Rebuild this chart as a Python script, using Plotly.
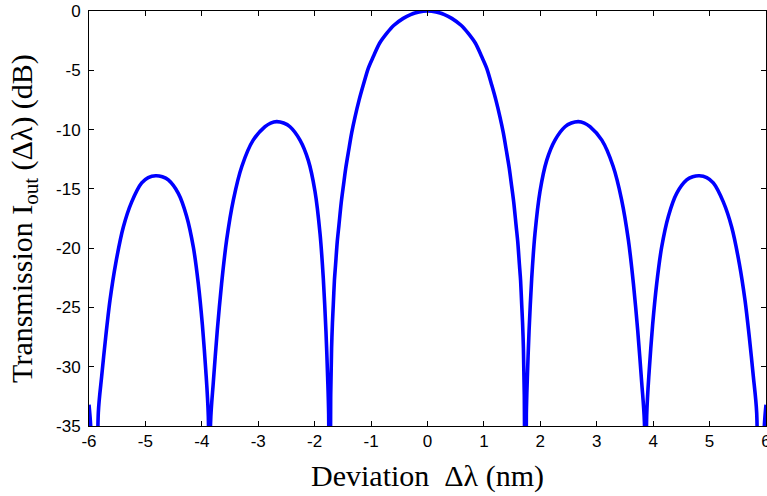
import plotly.graph_objects as go

# Deviation (nm) and transmission (dB)
x_nm = [
    -6.0, -5.98, -5.95, -5.87,
    -5.835, -5.775, -5.704, -5.628, -5.527, -5.39, -5.243, -5.066, -4.95, -4.818,
    -4.70, -4.594, -4.417, -4.27, -4.15, -4.063, -3.99, -3.93, -3.885, -3.865,
    -3.845, -3.797, -3.726, -3.65, -3.56, -3.44, -3.29, -3.09, -2.88, -2.78, -2.673,
    -2.55, -2.437, -2.26, -2.113, -1.994, -1.905, -1.847, -1.80, -1.77, -1.752, -1.738,
    -1.716, -1.70, -1.685, -1.67, -1.65, -1.63, -1.60, -1.57, -1.53, -1.49, -1.45, -1.40,
    -1.345, -1.285, -1.215, -1.14, -1.05, -0.96, -0.85, -0.72, -0.60, -0.43, -0.30, -0.15, 0.0,
    0.15, 0.30, 0.43, 0.60, 0.72, 0.85, 0.96, 1.05, 1.14, 1.215, 1.285, 1.345,
    1.40, 1.45, 1.49, 1.53, 1.57, 1.60, 1.63, 1.65, 1.67, 1.685, 1.70, 1.716, 1.738,
    1.752, 1.77, 1.80, 1.847, 1.905, 1.994, 2.113, 2.26, 2.437, 2.55, 2.673, 2.78,
    2.88, 3.09, 3.29, 3.44, 3.56, 3.65, 3.726, 3.797, 3.845, 3.865,
    3.885, 3.93, 3.99, 4.063, 4.15, 4.27, 4.417, 4.594, 4.70, 4.818, 4.95, 5.066,
    5.243, 5.39, 5.527, 5.628, 5.704, 5.775, 5.835, 5.87,
    5.95, 5.98, 6.0,
]
t_db = [
    -33.2, -34.3, -37.0, -60.0,
    -33.9, -30.8, -27.5, -24.4, -21.3, -18.2, -16.1, -14.5, -14.05, -13.89,
    -13.98, -14.25, -15.38, -17.3, -19.93, -22.98, -26.5, -30.3, -34.2, -60.0,
    -34.7, -31.34, -26.94, -23.0, -19.3, -15.9, -13.09, -10.89, -9.76, -9.45, -9.33,
    -9.45, -9.76, -10.89, -12.6, -15.22, -18.78, -22.55, -27.0, -30.9, -34.0, -60.0,
    -32.6, -28.45, -26.29, -24.79, -22.73, -21.43, -19.48, -18.07, -16.19, -14.71, -13.28, -11.83,
    -10.3, -8.95, -7.56, -6.27, -4.83, -3.84, -2.72, -1.87, -1.22, -0.62, -0.3, -0.075, 0.0,
    -0.075, -0.3, -0.62, -1.22, -1.87, -2.72, -3.84, -4.83, -6.27, -7.56, -8.95, -10.3,
    -11.83, -13.28, -14.71, -16.19, -18.07, -19.48, -21.43, -22.73, -24.79, -26.29, -28.45, -32.6, -60.0,
    -34.0, -30.9, -27.0, -22.55, -18.78, -15.22, -12.6, -10.89, -9.76, -9.45, -9.33, -9.45,
    -9.76, -10.89, -13.09, -15.9, -19.3, -23.0, -26.94, -31.34, -34.7, -60.0,
    -34.2, -30.3, -26.5, -22.98, -19.93, -17.3, -15.38, -14.25, -13.98, -13.89, -14.05, -14.5,
    -16.1, -18.2, -21.3, -24.4, -27.5, -30.8, -33.9, -60.0,
    -37.0, -34.3, -33.2,
]
x_ticks = [-6, -5, -4, -3, -2, -1, 0, 1, 2, 3, 4, 5, 6]
y_ticks = [0, -5, -10, -15, -20, -25, -30, -35]

fig = go.Figure()
fig.add_trace(go.Scatter(
    x=x_nm, y=t_db, mode="lines",
    line=dict(color="#0000ff", width=3.6, shape="spline", smoothing=0.8),
    showlegend=False, hoverinfo="skip",
))

tick_font = dict(family="Liberation Sans, Arial, sans-serif", size=17, color="black")
title_font = dict(family="Liberation Serif, Times New Roman, serif", size=30, color="black")

fig.update_layout(
    width=767, height=496,
    margin=dict(l=89, r=1, t=11, b=70),
    paper_bgcolor="white", plot_bgcolor="white",
)
fig.update_xaxes(
    range=[-6, 6], tickvals=x_ticks, ticktext=[str(v) for v in x_ticks],
    showline=True, linecolor="black", linewidth=1, mirror="ticks",
    ticks="inside", ticklen=5, tickcolor="black", tickwidth=1,
    showgrid=False, zeroline=False, tickfont=tick_font, ticklabeloverflow="allow",
    title=dict(text="Deviation\u00a0 \u0394\u03bb (nm)", font=title_font, standoff=14),
    automargin=False,
)
fig.update_yaxes(
    range=[-35, 0], tickvals=y_ticks, ticktext=[str(v) for v in y_ticks],
    showline=True, linecolor="black", linewidth=1, mirror="ticks",
    ticks="inside", ticklen=5, tickcolor="black", tickwidth=1,
    showgrid=False, zeroline=False, tickfont=tick_font, ticklabelstandoff=4,
    ticklabeloverflow="allow",
    title=dict(text="Transmission I<sub>out</sub> (\u0394\u03bb) (dB)", font=title_font, standoff=14),
    automargin=False,
)

fig.write_html(
    "out.html",
    config={"displayModeBar": False},
    post_script="document.body.style.margin='0';document.body.style.overflow='hidden';",
)
